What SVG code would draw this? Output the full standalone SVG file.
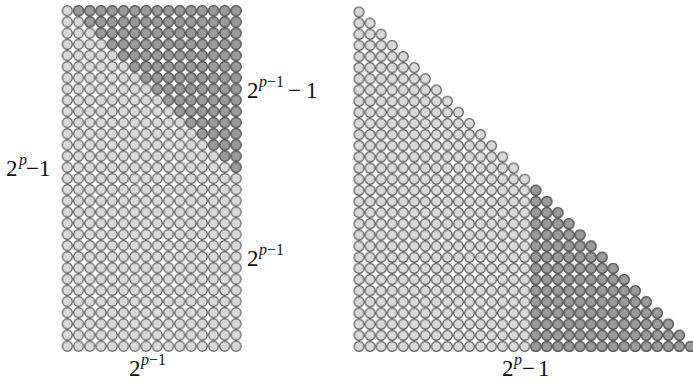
<svg xmlns="http://www.w3.org/2000/svg" width="693" height="389" viewBox="0 0 693 389">
<style>
.lbl{font-family:"Liberation Serif","Times New Roman",serif;font-size:23px;fill:#111}
.sup{font-size:16px}
.it{font-style:italic}
.ci{stroke:#505050;stroke-width:1.1}
</style>
<defs>
<pattern id="lightL" patternUnits="userSpaceOnUse" x="0" y="0" width="11.25" height="11.18"><circle class="ci" cx="5.625" cy="5.59" r="5.0" fill="#d8d8d8"/></pattern>
<pattern id="darkL" patternUnits="userSpaceOnUse" x="0" y="0" width="11.25" height="11.18"><circle class="ci" cx="5.625" cy="5.59" r="5.0" fill="#9a9a9a"/></pattern>
<pattern id="lightR" patternUnits="userSpaceOnUse" x="0" y="0" width="11.05" height="11.15"><circle class="ci" cx="5.525" cy="5.575" r="4.95" fill="#d8d8d8"/></pattern>
<pattern id="darkR" patternUnits="userSpaceOnUse" x="0" y="0" width="11.05" height="11.15"><circle class="ci" cx="5.525" cy="5.575" r="4.95" fill="#9a9a9a"/></pattern>
</defs>
<rect width="693" height="389" fill="#fff"/>
<g id="left-grid" transform="translate(61.675,5.21)">
<rect x="0" y="0" width="180" height="346.58" fill="url(#lightL)"/>
<polygon fill="url(#darkL)" points="180,0 180,167.7 168.75,167.7 168.75,156.52 157.5,156.52 157.5,145.34 146.25,145.34 146.25,134.16 135,134.16 135,122.98 123.75,122.98 123.75,111.8 112.5,111.8 112.5,100.62 101.25,100.62 101.25,89.44 90,89.44 90,78.26 78.75,78.26 78.75,67.08 67.5,67.08 67.5,55.9 56.25,55.9 56.25,44.72 45,44.72 45,33.54 33.75,33.54 33.75,22.36 22.5,22.36 22.5,11.18 11.25,11.18 11.25,0"/>
</g>
<g id="right-triangle" transform="translate(353.475,6.425)">
<polygon fill="url(#lightR)" points="0,0 11.05,0 11.05,11.15 22.1,11.15 22.1,22.3 33.15,22.3 33.15,33.45 44.2,33.45 44.2,44.6 55.25,44.6 55.25,55.75 66.3,55.75 66.3,66.9 77.35,66.9 77.35,78.05 88.4,78.05 88.4,89.2 99.45,89.2 99.45,100.35 110.5,100.35 110.5,111.5 121.55,111.5 121.55,122.65 132.6,122.65 132.6,133.8 143.65,133.8 143.65,144.95 154.7,144.95 154.7,156.1 165.75,156.1 165.75,167.25 176.8,167.25 176.8,178.4 187.85,178.4 187.85,189.55 198.9,189.55 198.9,200.7 209.95,200.7 209.95,211.85 221,211.85 221,223 232.05,223 232.05,234.15 243.1,234.15 243.1,245.3 254.15,245.3 254.15,256.45 265.2,256.45 265.2,267.6 276.25,267.6 276.25,278.75 287.3,278.75 287.3,289.9 298.35,289.9 298.35,301.05 309.4,301.05 309.4,312.2 320.45,312.2 320.45,323.35 331.5,323.35 331.5,334.5 342.55,334.5 342.55,345.65 0,345.65"/>
<polygon fill="url(#darkR)" points="176.8,178.4 187.85,178.4 187.85,189.55 198.9,189.55 198.9,200.7 209.95,200.7 209.95,211.85 221,211.85 221,223 232.05,223 232.05,234.15 243.1,234.15 243.1,245.3 254.15,245.3 254.15,256.45 265.2,256.45 265.2,267.6 276.25,267.6 276.25,278.75 287.3,278.75 287.3,289.9 298.35,289.9 298.35,301.05 309.4,301.05 309.4,312.2 320.45,312.2 320.45,323.35 331.5,323.35 331.5,334.5 342.55,334.5 342.55,345.65 176.8,345.65"/>
</g>
<g id="labels" class="lbl">
<text x="6" y="176">2<tspan class="sup it" x="19" y="165">p</tspan><tspan x="26" y="176">−</tspan><tspan x="39" y="176">1</tspan></text>
<text x="247" y="98">2<tspan class="sup" x="259" y="87"><tspan class="it">p</tspan>−1</tspan><tspan x="288" y="98">−</tspan><tspan x="306" y="98">1</tspan></text>
<text x="247" y="266">2<tspan class="sup" x="259" y="255"><tspan class="it">p</tspan>−1</tspan></text>
<text x="129" y="376">2<tspan class="sup" x="141" y="365"><tspan class="it">p</tspan>−1</tspan></text>
<text x="502" y="376">2<tspan class="sup it" x="514" y="365">p</tspan><tspan x="522" y="376">−</tspan><tspan x="538" y="376">1</tspan></text>
</g>
</svg>
